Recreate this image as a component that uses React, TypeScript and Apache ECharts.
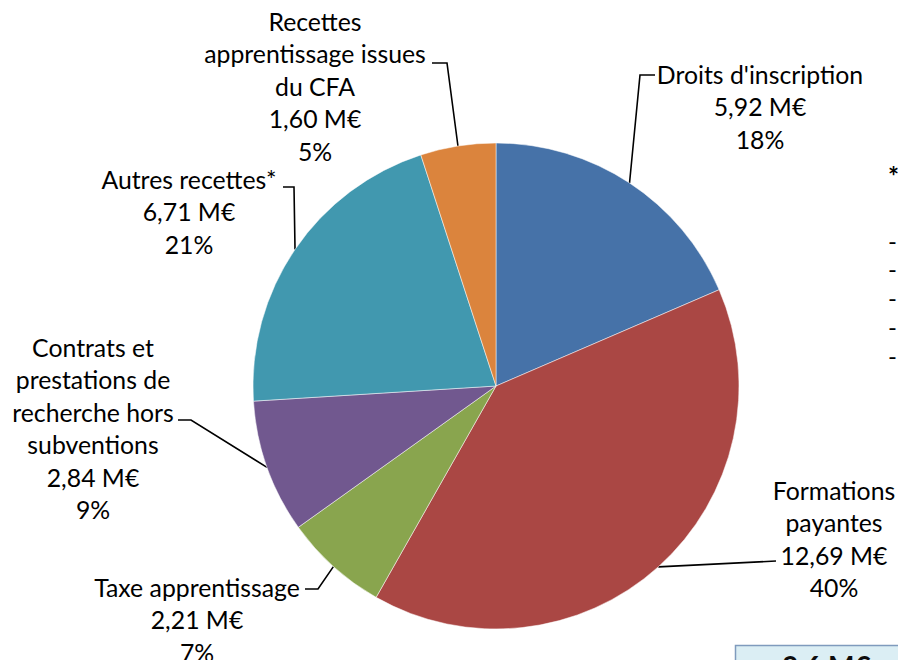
import React, { useEffect, useRef } from "react";
import * as echarts from "echarts";

const categories = [
  "Droits d'inscription",
  "Formations\npayantes",
  "Taxe apprentissage",
  "Contrats et\nprestations de\nrecherche hors\nsubventions",
  "Autres recettes*",
  "Recettes\napprentissage issues\ndu CFA",
];
const valuesMEur = [5.92, 12.69, 2.21, 2.84, 6.71, 1.6];
const percentLabels = [18, 40, 7, 9, 21, 5];
const colors = ["#4672A8", "#AA4744", "#89A54E", "#71588F", "#4198AF", "#DB843D"];

// label placement (pixels): block centre x, block top y, elbow point, line end
const labelPlacement = [
  { x: 760, y: 58, elbow: [640, 75], end: [655, 75] },
  { x: 834, y: 474, elbow: null, end: [776, 561] },
  { x: 197, y: 571, elbow: [318, 589], end: [305, 589] },
  { x: 93, y: 331, elbow: [191, 420], end: [178, 420] },
  { x: 189, y: 163, elbow: [294, 187], end: [283, 187] },
  { x: 315, y: 5, elbow: [447, 63], end: [432, 63] },
];

const CX = 496;
const CY = 386;
const R = 243;

export default function App() {
  const ref = useRef<HTMLDivElement>(null);
  useEffect(() => {
    if (!ref.current) return;
    const chart = echarts.init(ref.current, null, { renderer: "svg" });
    const total = valuesMEur.reduce((a, b) => a + b, 0);
    const anchors: number[][] = [];
    let acc = 0;
    valuesMEur.forEach((v) => {
      const mid = ((acc + v / 2) / total) * Math.PI * 2;
      anchors.push([CX + R * Math.sin(mid), CY - R * Math.cos(mid)]);
      acc += v;
    });
    const fmt = (v: number) => v.toFixed(2).replace(".", ",");
    chart.setOption({
      animation: false,
      backgroundColor: "#ffffff",
      graphic: [
        { type: "text", left: 888, top: 163, style: { text: "*", font: "bold 26px Lato", fill: "#000" } },
        ...[228, 256, 285, 314, 343].map((t) => ({
          type: "text",
          left: 888,
          top: t,
          style: { text: "-", font: "24px Lato", fill: "#000" },
        })),
        {
          type: "rect",
          shape: { x: 735.5, y: 645.5, width: 200, height: 40 },
          style: { fill: "#dbeef4", stroke: "#7f9bbd", lineWidth: 1.5 },
        },
        {
          type: "text",
          x: 782,
          y: 652,
          style: { text: "2 6 M€", font: "bold 28px Lato", fill: "#0d0d0d", letterSpacing: 6 } as any,
        },
      ],
      series: [
        {
          type: "pie",
          center: [CX, CY],
          radius: R,
          startAngle: 90,
          clockwise: true,
          avoidLabelOverlap: false,
          itemStyle: { borderColor: "#ffffff", borderWidth: 0.5 },
          label: {
            show: true,
            position: "outside",
            fontFamily: "Lato",
            fontSize: 24.8,
            lineHeight: 32.5,
            color: "#000",
            align: "center",
            formatter: (p: any) =>
              `${p.name}\n${fmt(p.value)} M€\n${percentLabels[p.dataIndex]}%`,
          },
          labelLine: { show: true, length: 10, length2: 10, lineStyle: { color: "#000", width: 1.6 } },
          labelLayout: (params: any) => {
            const i = params.dataIndex;
            const pl = labelPlacement[i];
            const pts = [anchors[i]];
            if (pl.elbow) pts.push(pl.elbow);
            pts.push(pl.end);
            return {
              x: pl.x,
              y: pl.y,
              align: "center",
              verticalAlign: "top",
              labelLinePoints: pts,
            };
          },
          data: categories.map((c, i) => ({
            name: c,
            value: valuesMEur[i],
            itemStyle: { color: colors[i] },
          })),
        },
      ],
    });
    return () => chart.dispose();
  }, []);
  return (
    <div
      ref={ref}
      style={{ position: "fixed", left: 0, top: 0, width: 898, height: 660, background: "#fff" }}
    />
  );
}
